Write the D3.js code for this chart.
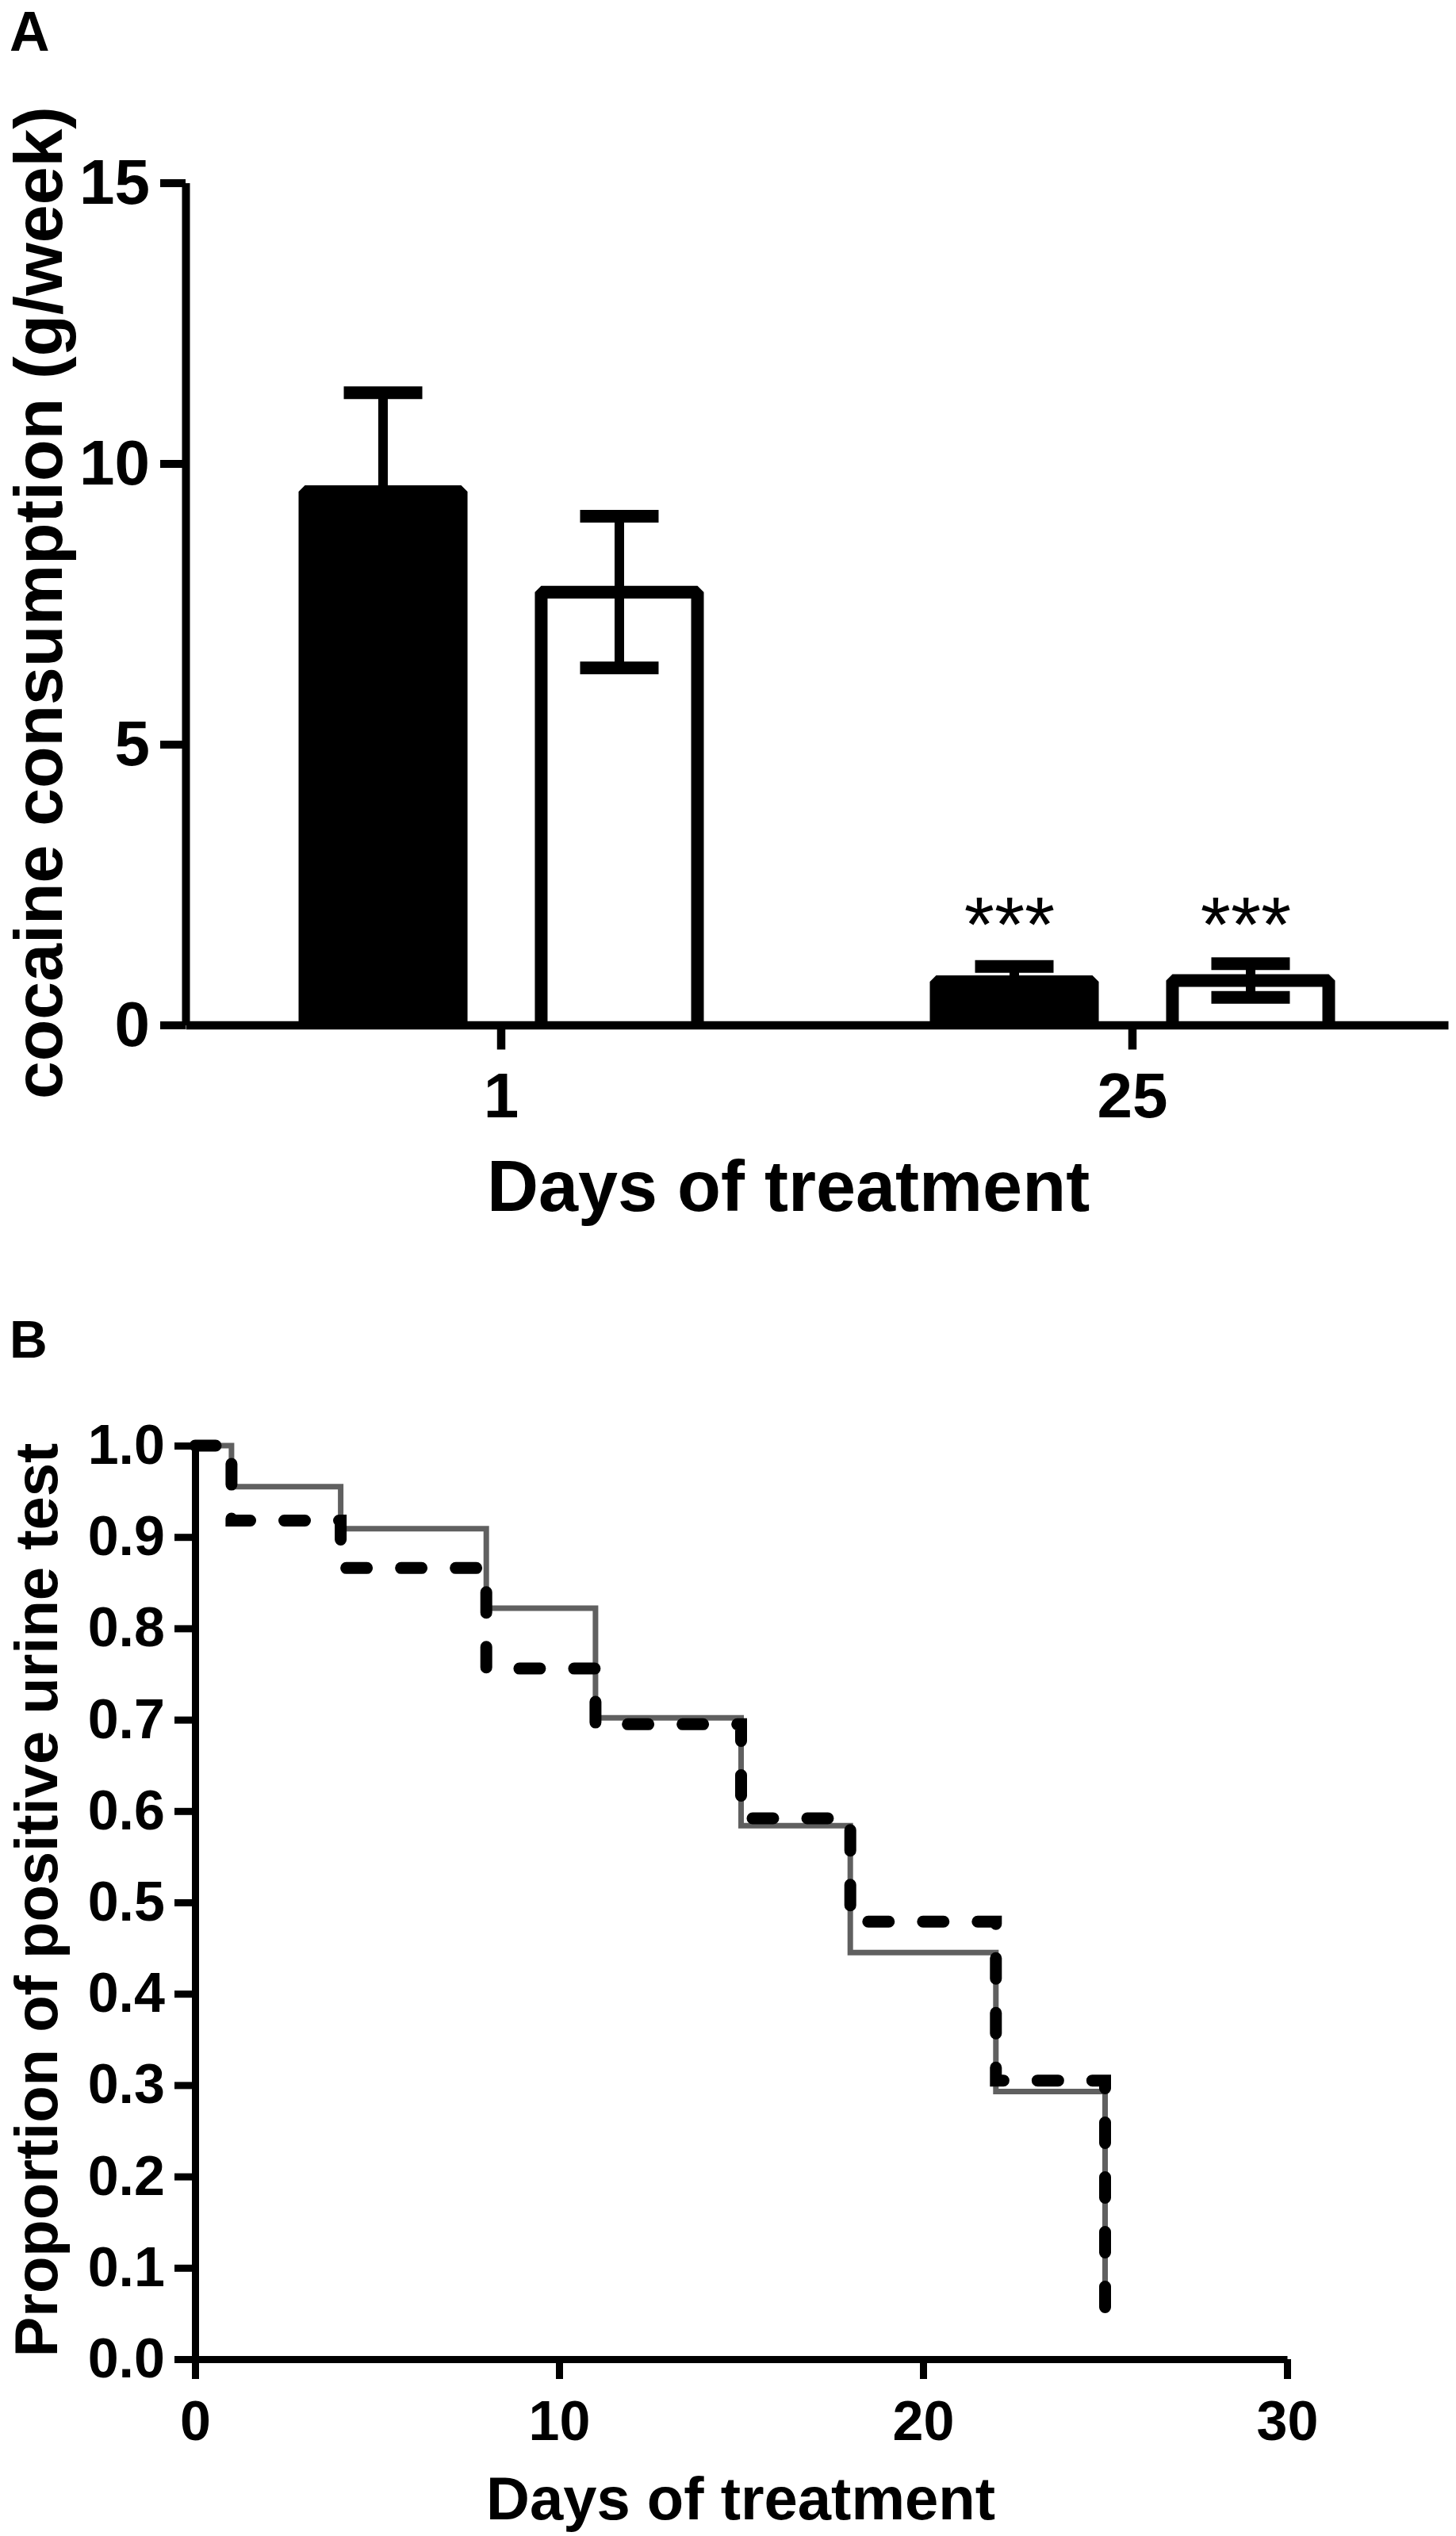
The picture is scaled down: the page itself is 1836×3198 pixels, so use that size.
<!DOCTYPE html>
<html>
<head>
<meta charset="utf-8">
<script src="https://cdn.jsdelivr.net/npm/d3@7"></script>
<style>
  body { margin: 0; background: #fff; }
  text { font-family: "Liberation Sans", Arial, sans-serif; fill: #000; }
</style>
</head>
<body>
<div id="figure"></div>
<script>
// panel A: weekly cocaine consumption
var days = ["1", "25"];
var series = ["filled", "open"];
var filledMean = [9.5, 0.77];
var filledSem = [1.76, 0.27];
var openMean = [7.71, 0.79];
var openSem = [1.35, 0.30];
var stars = ["", "***"];
var yTicksA = [0, 5, 10, 15];

// panel B: proportion of positive urine tests
var timeB = [0, 1, 4, 8, 11, 15, 18, 22, 25];
var solidB = [1.0, 0.955, 0.909, 0.822, 0.702, 0.584, 0.445, 0.293, 0.055];
var dashedB = [1.0, 0.918, 0.866, 0.756, 0.695, 0.592, 0.479, 0.305, 0.055];
var yTicksB = [0, 0.1, 0.2, 0.3, 0.4, 0.5, 0.6, 0.7, 0.8, 0.9, 1.0];
var xTicksB = [0, 10, 20, 30];

var W = 1836, H = 3198;
var svg = d3.select("#figure")
  .append("svg")
    .attr("width", W)
    .attr("height", H);

function styleAxis(g, fontSize, width) {
  g.attr("font-family", null).attr("font-size", null);
  g.select(".domain").attr("stroke", "#000").attr("stroke-width", width);
  g.selectAll(".tick line").attr("stroke", "#000").attr("stroke-width", width);
  g.selectAll(".tick text")
    .attr("font-size", fontSize)
    .attr("font-weight", "bold");
}

// ---------- panel A ----------
var xA = d3.scaleBand()
  .domain(days)
  .range([234, 1826])
  .padding(0);
var xSub = d3.scaleBand()
  .domain(series)
  .range([-255.5, 255.5])
  .paddingInner(0.285);
var yA = d3.scaleLinear()
  .domain([0, 15])
  .range([1292.5, 230.5]);

var bars = [];
days.forEach(function(d, i) {
  bars.push({day: d, s: "filled", mean: filledMean[i], sem: filledSem[i], star: stars[i]});
  bars.push({day: d, s: "open", mean: openMean[i], sem: openSem[i], star: stars[i]});
});

var bw = 16;
var gBars = svg.append("g");
gBars.selectAll("path.bar")
  .data(bars)
  .enter().append("path")
    .attr("class", "bar")
    .attr("d", function(b) {
      var left = xA(b.day) + xA.bandwidth() / 2 + xSub(b.s) + bw / 2;
      var right = left + xSub.bandwidth() - bw;
      return "M" + left + "," + yA(0) + "V" + yA(b.mean) + "H" + right + "V" + yA(0);
    })
    .attr("fill", function(b) { return b.s === "filled" ? "#000" : "#fff"; })
    .attr("stroke", "#000")
    .attr("stroke-width", bw)
    .attr("stroke-linejoin", "bevel");

function barCenter(b) {
  return xA(b.day) + xA.bandwidth() / 2 + xSub(b.s) + xSub.bandwidth() / 2;
}

var gErr = svg.append("g");
bars.forEach(function(b) {
  var cx = barCenter(b);
  gErr.append("line")
    .attr("x1", cx).attr("x2", cx)
    .attr("y1", yA(b.mean - b.sem)).attr("y2", yA(b.mean + b.sem))
    .attr("stroke", "#000").attr("stroke-width", 12);
  [b.mean - b.sem, b.mean + b.sem].forEach(function(v) {
    gErr.append("line")
      .attr("x1", cx - 49.5).attr("x2", cx + 49.5)
      .attr("y1", yA(v)).attr("y2", yA(v))
      .attr("stroke", "#000").attr("stroke-width", 16);
  });
});

svg.append("g").selectAll("text.star")
  .data(bars.filter(function(b) { return b.star; }))
  .enter().append("text")
    .attr("class", "star")
    .attr("x", function(b) { return barCenter(b) - 6; })
    .attr("y", yA(1.3))
    .attr("text-anchor", "middle")
    .attr("font-size", 98)
    .text(function(b) { return b.star; });

svg.append("g")
  .attr("transform", "translate(0," + yA(0) + ")")
  .call(d3.axisBottom(xA).tickSize(31).tickSizeOuter(0).tickPadding(29))
  .call(styleAxis, 80, 10.5);

svg.append("g")
  .attr("transform", "translate(234,0)")
  .call(d3.axisLeft(yA).tickValues(yTicksA).tickSize(32).tickSizeOuter(0).tickPadding(13))
  .call(styleAxis, 80, 10);

svg.append("text")
  .attr("x", 12).attr("y", 64)
  .attr("font-size", 70).attr("font-weight", "bold")
  .text("A");

svg.append("text")
  .attr("transform", "translate(78,760) rotate(-90)")
  .attr("text-anchor", "middle")
  .attr("font-size", 86).attr("font-weight", "bold")
  .text("cocaine consumption (g/week)");

svg.append("text")
  .attr("x", 994).attr("y", 1527)
  .attr("text-anchor", "middle")
  .attr("font-size", 90).attr("font-weight", "bold")
  .text("Days of treatment");

// ---------- panel B ----------
var xB = d3.scaleLinear()
  .domain([0, 30])
  .range([246, 1623]);
var yB = d3.scaleLinear()
  .domain([0, 1])
  .range([2975, 1823]);

var step = d3.line()
  .x(function(d) { return xB(d[0]); })
  .y(function(d) { return yB(d[1]); })
  .curve(d3.curveStepAfter);

svg.append("path")
  .datum(timeB.map(function(t, i) { return [t, solidB[i]]; }))
  .attr("fill", "none")
  .attr("stroke", "#606060")
  .attr("stroke-width", 7)
  .attr("d", step);

svg.append("path")
  .datum(timeB.map(function(t, i) { return [t, dashedB[i]]; }))
  .attr("fill", "none")
  .attr("stroke", "#000")
  .attr("stroke-width", 15)
  .attr("stroke-linecap", "round")
  .attr("stroke-dasharray", "26 43")
  .attr("d", step);

svg.append("g")
  .attr("transform", "translate(0," + yB(0) + ")")
  .call(d3.axisBottom(xB).tickValues(xTicksB).tickSize(25).tickSizeOuter(0).tickPadding(27))
  .call(styleAxis, 70, 9);

svg.append("g")
  .attr("transform", "translate(246,0)")
  .call(d3.axisLeft(yB).tickValues(yTicksB).tickFormat(d3.format(".1f")).tickSize(26).tickSizeOuter(0).tickPadding(12))
  .call(styleAxis, 70, 9);

svg.append("text")
  .attr("x", 12).attr("y", 1712)
  .attr("font-size", 66).attr("font-weight", "bold")
  .text("B");

svg.append("text")
  .attr("transform", "translate(72,2396) rotate(-90)")
  .attr("text-anchor", "middle")
  .attr("font-size", 76).attr("font-weight", "bold")
  .text("Proportion of positive urine test");

svg.append("text")
  .attr("x", 934).attr("y", 3177)
  .attr("text-anchor", "middle")
  .attr("font-size", 76).attr("font-weight", "bold")
  .text("Days of treatment");
</script>
</body>
</html>
